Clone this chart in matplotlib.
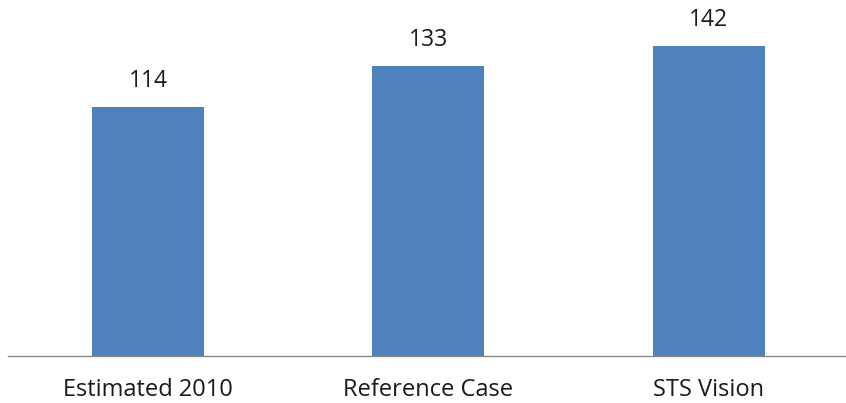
import matplotlib.pyplot as plt

# data
categories = ['Estimated 2010', 'Reference Case', 'STS Vision']
values = [114, 133, 142]

plt.rcParams['font.family'] = ['Open Sans', 'DejaVu Sans']

fig = plt.figure(figsize=(8.46, 4.03), dpi=100)
ax = fig.add_axes([8 / 846, 47 / 403, 838 / 846, 356 / 403])

bars = ax.bar(range(len(categories)), values, width=0.4, color='#4F81BD')

# value labels over the bars
for b, v in zip(bars, values):
    ax.annotate(str(v), (b.get_x() + b.get_width() / 2, v),
                xytext=(0, 10), textcoords='offset points',
                ha='center', va='bottom', fontsize=16.5, color='#1a1a1a')

ax.set_xlim(-0.5, 2.49)
ax.set_ylim(0, 163)
ax.set_xticks(range(len(categories)))
ax.set_xticklabels(categories, fontsize=17, color='#1a1a1a')
ax.tick_params(axis='x', length=0, pad=16)
ax.set_yticks([])

for s in ['top', 'right', 'left']:
    ax.spines[s].set_visible(False)
ax.spines['bottom'].set_color('#888888')
ax.spines['bottom'].set_linewidth(1)

fig.savefig('out.png', dpi=100)
